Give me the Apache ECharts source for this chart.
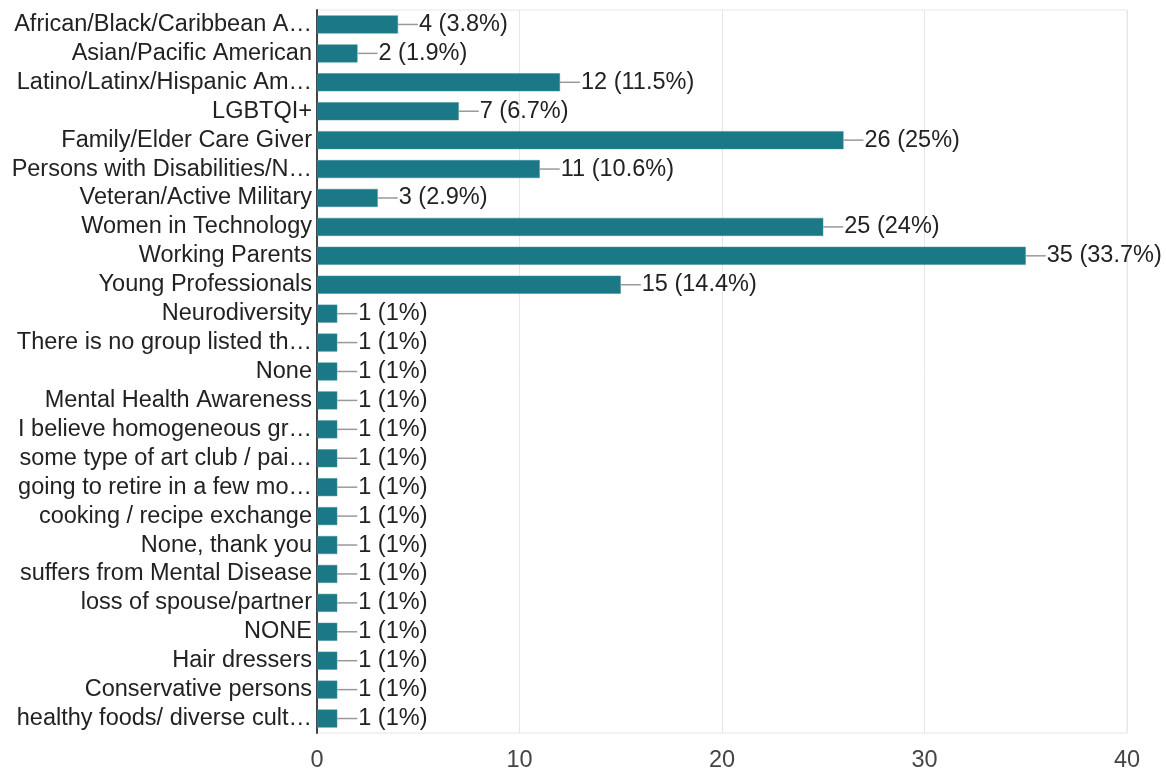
<!DOCTYPE html>
<html>
<head>
<meta charset="utf-8">
<script src="https://cdn.jsdelivr.net/npm/echarts@6/dist/echarts.min.js"></script>
<style>
  html, body { margin: 0; padding: 0; background: #fff; }
  #chart { width: 1166px; height: 775px; }
</style>
</head>
<body>
<div id="chart"></div>
<script>
// categories as shown (already cut off in the picture)
const groups = [
  'African/Black/Caribbean A…',
  'Asian/Pacific American',
  'Latino/Latinx/Hispanic Am…',
  'LGBTQI+',
  'Family/Elder Care Giver',
  'Persons with Disabilities/N…',
  'Veteran/Active Military',
  'Women in Technology',
  'Working Parents',
  'Young Professionals',
  'Neurodiversity',
  'There is no group listed th…',
  'None',
  'Mental Health Awareness',
  'I believe homogeneous gr…',
  'some type of art club / pai…',
  'going to retire in a few mo…',
  'cooking / recipe exchange',
  'None, thank you',
  'suffers from Mental Disease',
  'loss of spouse/partner',
  'NONE',
  'Hair dressers',
  'Conservative persons',
  'healthy foods/ diverse cult…'
]
const counts = [4, 2, 12, 7, 26, 11, 3, 25, 35, 15, 1, 1, 1, 1, 1, 1, 1, 1, 1, 1, 1, 1, 1, 1, 1]
const percents = ['3.8%', '1.9%', '11.5%', '6.7%', '25%', '10.6%', '2.9%', '24%', '33.7%', '14.4%',
  '1%', '1%', '1%', '1%', '1%', '1%', '1%', '1%', '1%', '1%', '1%', '1%', '1%', '1%', '1%']
const xTicks = { min: 0, max: 40, interval: 10 }

const myChart = echarts.init(document.getElementById('chart'))
const option = {
  backgroundColor: '#fff',
  textStyle: { fontFamily: 'Liberation Sans, Arial, sans-serif' },
  grid: {
    left: 317,
    right: 39,
    top: 10,
    bottom: 42,
    show: true,
    borderColor: '#e6e6e6',
    borderWidth: 1
  },
  xAxis: {
    type: 'value',
    min: xTicks.min,
    max: xTicks.max,
    interval: xTicks.interval,
    axisLine: { show: false },
    axisTick: { show: false },
    splitLine: { lineStyle: { color: '#e6e6e6', width: 1 } },
    axisLabel: { color: '#444', fontSize: 23.5, margin: 16 }
  },
  yAxis: {
    type: 'category',
    inverse: true,
    data: groups,
    axisLine: { show: true, lineStyle: { color: '#444', width: 2 } },
    axisTick: { show: false },
    axisLabel: { color: '#222', fontSize: 23.5, margin: 5, interval: 0 }
  },
  series: [
    {
      type: 'bar',
      data: counts,
      barWidth: 18,
      itemStyle: {
        color: '#1b7886',
        borderColor: '#3f8f9b',
        borderWidth: 0.5
      },
      label: {
        show: true,
        position: 'right',
        distance: 0,
        formatter: function (p) {
          return '{ln|}{txt|' + counts[p.dataIndex] + ' (' + percents[p.dataIndex] + ')}'
        },
        rich: {
          ln: { width: 20, height: 1.5, backgroundColor: '#999', verticalAlign: 'middle' },
          txt: { fontSize: 23.5, color: '#222', padding: [0, 0, 0, 1] }
        }
      }
    }
  ]
}
myChart.setOption(option)
</script>
</body>
</html>
